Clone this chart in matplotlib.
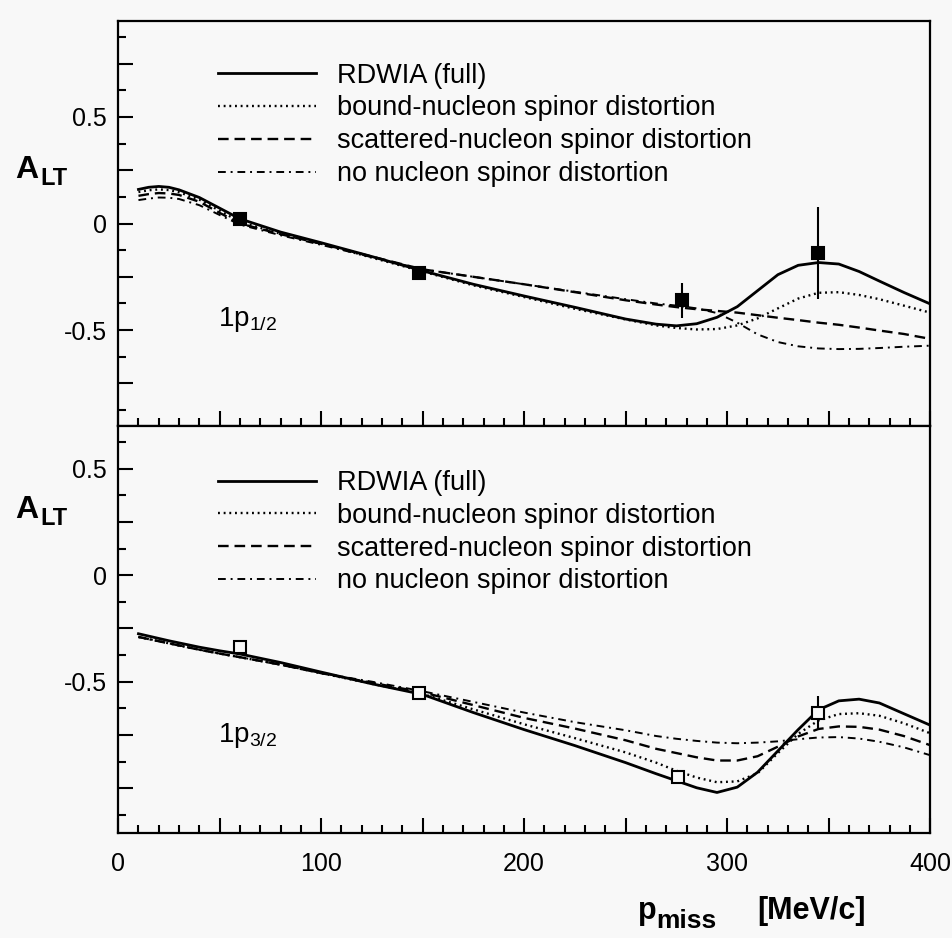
import matplotlib
matplotlib.use("Agg")
import matplotlib.pyplot as plt
from matplotlib.ticker import MultipleLocator, FuncFormatter

plt.rcParams["font.family"] = ["Liberation Sans", "DejaVu Sans"]
plt.rcParams["mathtext.fontset"] = "custom"
plt.rcParams["mathtext.rm"] = "Liberation Sans"
plt.rcParams["mathtext.bf"] = "Liberation Sans:bold"
plt.rcParams["mathtext.it"] = "Liberation Sans:italic"
plt.rcParams["mathtext.default"] = "regular"
plt.rcParams["axes.unicode_minus"] = False

# missing momentum grid [MeV/c] shared by all curves
p_miss = [10, 15, 20, 25, 30, 40, 50, 60, 80, 100, 125, 150, 175, 200, 225,
          250, 265, 275, 285, 295, 305, 315, 325, 335, 345, 355, 365, 375,
          387, 400]

labels = ["RDWIA (full)", "bound-nucleon spinor distortion",
          "scattered-nucleon spinor distortion", "no nucleon spinor distortion"]

# 1p1/2 state
full_12 = [0.160, 0.170, 0.174, 0.170, 0.158, 0.122, 0.072, 0.022, -0.040,
           -0.090, -0.155, -0.222, -0.285, -0.340, -0.393, -0.448, -0.472,
           -0.480, -0.470, -0.440, -0.390, -0.315, -0.240, -0.196, -0.183,
           -0.190, -0.225, -0.270, -0.323, -0.377]
bound_12 = [0.148, 0.156, 0.160, 0.157, 0.147, 0.112, 0.060, 0.008, -0.048,
            -0.095, -0.160, -0.225, -0.290, -0.345, -0.400, -0.450, -0.478,
            -0.490, -0.497, -0.495, -0.478, -0.445, -0.398, -0.352, -0.325,
            -0.322, -0.335, -0.355, -0.385, -0.418]
scat_12 = [0.130, 0.138, 0.143, 0.141, 0.134, 0.102, 0.050, 0.000, -0.050,
           -0.095, -0.155, -0.215, -0.250, -0.285, -0.322, -0.360, -0.380,
           -0.392, -0.402, -0.410, -0.418, -0.430, -0.442, -0.453, -0.465,
           -0.475, -0.488, -0.502, -0.518, -0.541]
none_12 = [0.110, 0.117, 0.122, 0.121, 0.115, 0.086, 0.040, -0.005, -0.055,
           -0.100, -0.158, -0.215, -0.250, -0.285, -0.320, -0.355, -0.375,
           -0.385, -0.398, -0.420, -0.465, -0.520, -0.556, -0.576, -0.586,
           -0.589, -0.588, -0.584, -0.578, -0.573]

# 1p3/2 state
full_32 = [-0.275, -0.286, -0.297, -0.308, -0.318, -0.338, -0.355, -0.370,
           -0.410, -0.455, -0.510, -0.560, -0.645, -0.725, -0.800, -0.880,
           -0.932, -0.965, -0.998, -1.020, -0.995, -0.925, -0.825, -0.725,
           -0.632, -0.590, -0.582, -0.600, -0.650, -0.704]
bound_32 = [-0.290, -0.300, -0.310, -0.320, -0.330, -0.350, -0.368, -0.385,
            -0.420, -0.460, -0.510, -0.558, -0.630, -0.700, -0.765, -0.832,
            -0.880, -0.918, -0.950, -0.972, -0.968, -0.930, -0.835, -0.745,
            -0.682, -0.652, -0.648, -0.660, -0.695, -0.742]
scat_32 = [-0.290, -0.300, -0.310, -0.320, -0.330, -0.350, -0.368, -0.385,
           -0.420, -0.460, -0.505, -0.550, -0.610, -0.670, -0.720, -0.775,
           -0.815, -0.835, -0.855, -0.870, -0.870, -0.850, -0.805, -0.757,
           -0.722, -0.710, -0.712, -0.725, -0.755, -0.798]
none_32 = [-0.290, -0.300, -0.310, -0.320, -0.330, -0.350, -0.368, -0.385,
           -0.420, -0.460, -0.500, -0.545, -0.595, -0.645, -0.690, -0.728,
           -0.755, -0.768, -0.778, -0.786, -0.789, -0.786, -0.780, -0.770,
           -0.762, -0.760, -0.767, -0.782, -0.808, -0.845]

# measured points
data_x_12 = [60, 148, 278, 345]
data_y_12 = [0.023, -0.230, -0.360, -0.137]
data_e_12 = [0.0, 0.0, 0.083, 0.215]
data_x_32 = [60, 148, 276, 345]
data_y_32 = [-0.338, -0.555, -0.948, -0.648]
data_e_32 = [0.0, 0.0, 0.0, 0.080]

styles = [
    dict(ls="-", lw=2.0),
    dict(ls=(0, (0.8, 1.6)), lw=1.7),
    dict(ls=(0, (4.5, 2.5)), lw=1.7),
    dict(ls=(0, (4, 2.5, 1, 2.5)), lw=1.4),
]

bg = "#f8f8f8"
fig = plt.figure(figsize=(9.53, 9.38), dpi=100, facecolor=bg)
ax1 = fig.add_axes([0.124, 0.5458, 0.852, 0.4318], facecolor=bg)
ax2 = fig.add_axes([0.124, 0.112, 0.852, 0.4338], facecolor=bg)


def ylab(v, pos):
    if abs(v * 2 - round(v * 2)) > 1e-6 or v < -0.6:
        return ""
    return "0" if abs(v) < 1e-9 else f"{v:g}"


def setup(ax, ylim):
    ax.set_xlim(0, 400)
    ax.set_ylim(*ylim)
    ax.xaxis.set_major_locator(MultipleLocator(50))
    ax.xaxis.set_minor_locator(MultipleLocator(10))
    ax.yaxis.set_major_locator(MultipleLocator(0.25))
    ax.yaxis.set_minor_locator(MultipleLocator(0.125))
    ax.yaxis.set_major_formatter(FuncFormatter(ylab))
    ax.xaxis.set_major_formatter(
        FuncFormatter(lambda v, p: f"{v:.0f}" if v % 100 == 0 else ""))
    ax.tick_params(which="both", direction="in", top=False, right=False,
                   width=1.5, labelsize=18)
    ax.tick_params(which="major", length=11, pad=8)
    ax.tick_params(which="minor", length=5.5)
    ax.tick_params(axis="x", pad=14)
    for s in ax.spines.values():
        s.set_linewidth(1.6)


for ax, curves, dx, dy, de, filled, ylim, top in [
        (ax1, [full_12, bound_12, scat_12, none_12], data_x_12, data_y_12,
         data_e_12, True, (-0.95, 0.95), 0.897),
        (ax2, [full_32, bound_32, scat_32, none_32], data_x_32, data_y_32,
         data_e_32, False, (-1.21, 0.70), 0.892)]:
    setup(ax, ylim)
    handles = []
    for vals, st, lab in zip(curves, styles, labels):
        h, = ax.plot(p_miss, vals, color="black", label=lab, **st)
        handles.append(h)
    ax.errorbar(dx, dy, yerr=de, fmt="s", color="black", ms=8.5 if filled else 9,
                mfc="black" if filled else bg, mew=1.5, elinewidth=1.5,
                capsize=0, zorder=5)
    ax.legend(handles=handles, loc="upper left", bbox_to_anchor=(0.123, top),
              frameon=False, fontsize=19.5, handlelength=3.6,
              handletextpad=0.8, labelspacing=0.25, borderpad=0,
              borderaxespad=0)

ax1.tick_params(axis="x", labelbottom=False)
ax1.text(49, -0.479, r"1p$_{1/2}$", fontsize=20, va="baseline")
ax2.text(49, -0.784, r"1p$_{3/2}$", fontsize=20, va="baseline")

# axis titles built from pieces so the subscripts stay large
for yc in (1 - 170 / 938, 1 - 510 / 938):
    fig.text(15 / 953, yc, "A", fontsize=23, fontweight="bold", va="center")
    fig.text(40 / 953, yc - 0.009, "LT", fontsize=17, fontweight="bold",
             va="center")
fig.text(638 / 953, 1 - 911 / 938, "p", fontsize=22, fontweight="bold",
         va="center")
fig.text(656 / 953, 1 - 921 / 938, "miss", fontsize=19, fontweight="bold",
         va="center")
fig.text(757 / 953, 1 - 911 / 938, "[MeV/c]", fontsize=22,
         fontweight="bold", va="center")

fig.savefig("out.png", dpi=100, facecolor=bg)
